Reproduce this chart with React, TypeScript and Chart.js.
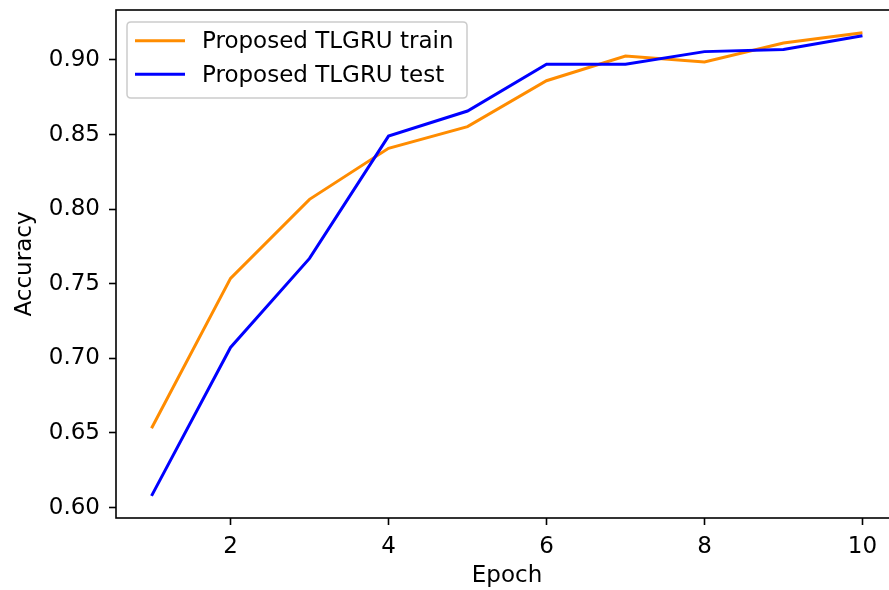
import React, { useEffect, useRef } from "react";
import { Chart, registerables } from "chart.js";
Chart.register(...registerables);

const epochs = [1, 2, 3, 4, 5, 6, 7, 8, 9, 10];
const trainAcc = [0.6532, 0.7536, 0.8066, 0.8408, 0.8553, 0.8861, 0.9027, 0.8987, 0.9114, 0.9183];
const testAcc = [0.6078, 0.7073, 0.767, 0.849, 0.8658, 0.8971, 0.8971, 0.9056, 0.907, 0.9162];
const xTicks = [2, 4, 6, 8, 10];
const yTicks = [0.6, 0.65, 0.7, 0.75, 0.8, 0.85, 0.9];
const seriesLabels = ["Proposed TLGRU train", "Proposed TLGRU test"];
const seriesColors = ["#ff8c00", "#0000ff"];
const xTitle = "Epoch";
const yTitle = "Accuracy";

const FONT = "'DejaVu Sans', sans-serif";
const FS = 23;

const framePlugin = {
  id: "frameAndLegend",
  afterDraw(chart: any) {
    const { ctx, chartArea } = chart;
    const { left, top, right, bottom } = chartArea;
    ctx.save();
    ctx.strokeStyle = "#000";
    ctx.lineWidth = 1.6;
    ctx.strokeRect(left, top, right - left, bottom - top);

    // legend
    const bx = 127, by = 22, bw = 340, bh = 76, r = 4;
    ctx.beginPath();
    ctx.moveTo(bx + r, by);
    ctx.lineTo(bx + bw - r, by);
    ctx.quadraticCurveTo(bx + bw, by, bx + bw, by + r);
    ctx.lineTo(bx + bw, by + bh - r);
    ctx.quadraticCurveTo(bx + bw, by + bh, bx + bw - r, by + bh);
    ctx.lineTo(bx + r, by + bh);
    ctx.quadraticCurveTo(bx, by + bh, bx, by + bh - r);
    ctx.lineTo(bx, by + r);
    ctx.quadraticCurveTo(bx, by, bx + r, by);
    ctx.closePath();
    ctx.fillStyle = "rgba(255,255,255,0.8)";
    ctx.fill();
    ctx.strokeStyle = "#cccccc";
    ctx.lineWidth = 1.5;
    ctx.stroke();

    const rows = [40.7, 74.3];
    const baselines = [48.3, 81.7];
    chart.data.datasets.forEach((ds: any, i: number) => {
      const y = rows[i];
      ctx.beginPath();
      ctx.moveTo(135, y);
      ctx.lineTo(185, y);
      ctx.strokeStyle = ds.borderColor;
      ctx.lineWidth = 3;
      ctx.stroke();
      ctx.fillStyle = "#000";
      ctx.font = `${FS}px ${FONT}`;
      ctx.textBaseline = "alphabetic";
      ctx.textAlign = "left";
      ctx.fillText(ds.label, 202, baselines[i]);
    });
    ctx.restore();
  },
};

export default function App() {
  const ref = useRef<HTMLCanvasElement>(null);
  useEffect(() => {
    if (!ref.current) return;
    const chart = new Chart(ref.current, {
      type: "line",
      data: {
        datasets: [
          {
            label: seriesLabels[0],
            data: epochs.map((e, i) => ({ x: e, y: trainAcc[i] })),
            borderColor: seriesColors[0],
            backgroundColor: seriesColors[0],
            borderWidth: 3,
            pointRadius: 0,
            tension: 0,
            order: 1,
          },
          {
            label: seriesLabels[1],
            data: epochs.map((e, i) => ({ x: e, y: testAcc[i] })),
            borderColor: seriesColors[1],
            backgroundColor: seriesColors[1],
            borderWidth: 3,
            pointRadius: 0,
            tension: 0,
            order: 0,
          },
        ],
      },
      options: {
        responsive: false,
        animation: false,
        devicePixelRatio: 1,
        layout: { padding: { left: 0, top: 10, right: 2, bottom: 0 } },
        plugins: { legend: { display: false }, tooltip: { enabled: false } },
        scales: {
          x: {
            type: "linear",
            min: 0.55,
            max: 10.45,
            afterBuildTicks: (s: any) => {
              s.ticks = xTicks.map((v) => ({ value: v }));
            },
            afterFit: (s: any) => {
              s.height = 72;
              s.paddingLeft = 0;
              s.paddingRight = 0;
            },
            border: { display: false },
            grid: {
              drawOnChartArea: false,
              drawTicks: true,
              tickLength: 7,
              tickColor: "#000",
              tickWidth: 1.6,
            },
            ticks: {
              color: "#000",
              font: { family: FONT, size: FS },
              padding: 8,
              maxRotation: 0,
              autoSkip: false,
              callback: (v: any) => String(v),
            },
            title: {
              display: true,
              text: xTitle,
              color: "#000",
              font: { family: FONT, size: FS },
              padding: { top: 0, bottom: 0 },
            },
          },
          y: {
            type: "linear",
            min: 0.593,
            max: 0.9335,
            afterBuildTicks: (s: any) => {
              s.ticks = yTicks.map((v) => ({ value: v }));
            },
            afterFit: (s: any) => {
              s.width = 116;
              s.paddingTop = 0;
              s.paddingBottom = 0;
            },
            border: { display: false },
            grid: {
              drawOnChartArea: false,
              drawTicks: true,
              tickLength: 7,
              tickColor: "#000",
              tickWidth: 1.6,
            },
            ticks: {
              color: "#000",
              font: { family: FONT, size: FS },
              padding: 9,
              autoSkip: false,
              callback: (v: any) => Number(v).toFixed(2),
            },
            title: {
              display: true,
              text: yTitle,
              color: "#000",
              font: { family: FONT, size: FS },
              padding: { top: 11, bottom: 0 },
            },
          },
        },
      },
      plugins: [framePlugin],
    } as any);
    return () => chart.destroy();
  }, []);

  return (
    <div
      style={{
        position: "fixed",
        left: 0,
        top: 0,
        width: 889,
        height: 590,
        overflow: "hidden",
        background: "#fff",
      }}
    >
      <canvas
        ref={ref}
        width={900}
        height={590}
        style={{ width: 900, height: 590, display: "block" }}
      />
    </div>
  );
}
